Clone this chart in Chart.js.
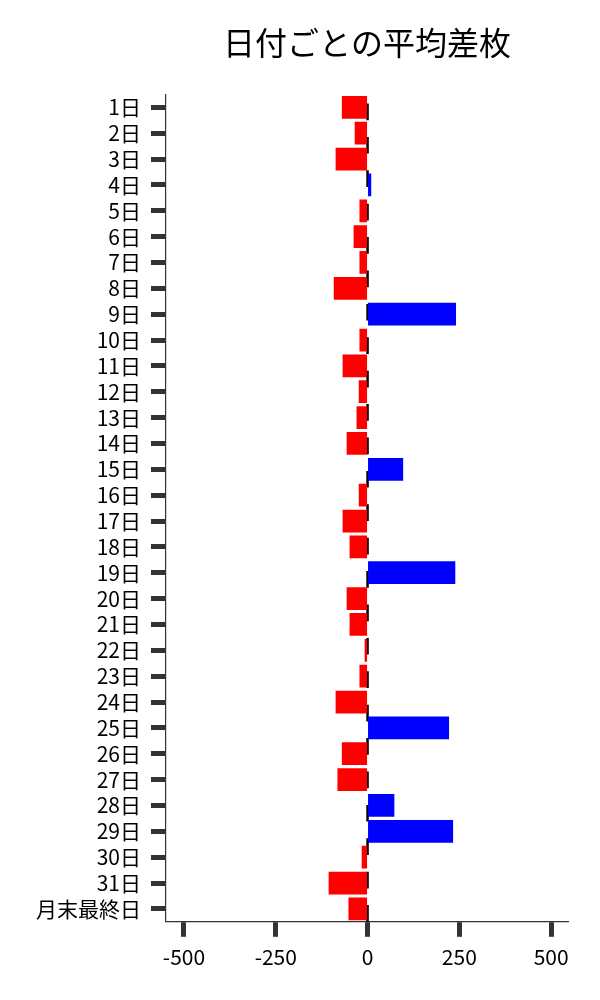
<!DOCTYPE html>
<html>
<head>
<meta charset="utf-8">
<script src="https://cdn.jsdelivr.net/npm/chart.js@4"></script>
<style>
  body { margin: 0; background: #fff; }
  #wrap { width: 600px; height: 1000px; }
</style>
</head>
<body>
<div id="wrap"><canvas id="canvas" width="600" height="1000"></canvas></div>
<script>
var days = ['1日','2日','3日','4日','5日','6日','7日','8日','9日','10日','11日','12日','13日','14日','15日','16日','17日','18日','19日','20日','21日','22日','23日','24日','25日','26日','27日','28日','29日','30日','31日','月末最終日'];
var avgDiff = [-70,-35,-87,10,-22,-38,-22,-92,241,-22,-68,-24,-30,-57,97,-24,-68,-49,239,-57,-49,-8,-22,-87,222,-70,-82,73,233,-16,-106,-52];
var xTicks = [-500,-250,0,250,500];
var chartTitle = '日付ごとの平均差枚';

var fontFamily = "'Noto Sans CJK JP', 'Noto Sans', sans-serif";

// dashed zero line behind the bars
var zeroLine = {
    id: 'zeroLine',
    beforeDatasetsDraw: function(chart){
        var ctx = chart.ctx;
        var area = chart.chartArea;
        var x = chart.scales.x.getPixelForValue(0);
        ctx.save();
        ctx.strokeStyle = '#000';
        ctx.lineWidth = 2.5;
        ctx.setLineDash([16.7, 16.7]);
        ctx.beginPath();
        ctx.moveTo(x, area.bottom);
        ctx.lineTo(x, area.top);
        ctx.stroke();
        ctx.restore();
    }
};

var colors = avgDiff.map(function(v){
    return v < 0 ? '#ff0000' : '#0000ff';
});

const ctx = document.getElementById('canvas').getContext('2d');
const chart = new Chart(ctx, {
    type: 'bar',
    data: {
        labels: days,
        datasets: [{
            label: '平均差枚',
            data: avgDiff,
            backgroundColor: colors,
            borderWidth: 0,
            barPercentage: 0.88,
            categoryPercentage: 1
        }]
    },
    options: {
        indexAxis: 'y',
        responsive: false,
        animation: false,
        layout: {
            padding: { left: 26, right: 32, top: 0, bottom: 22 }
        },
        plugins: {
            legend: { display: false },
            tooltip: { enabled: false },
            title: {
                display: true,
                text: chartTitle,
                fullSize: false,
                color: '#000',
                font: { family: fontFamily, size: 32, weight: 'normal', lineHeight: 1.2 },
                padding: { top: 24, bottom: 32 }
            }
        },
        scales: {
            x: {
                type: 'linear',
                min: -549,
                max: 546,
                afterBuildTicks: function(axis){
                    axis.ticks = xTicks.map(function(v){ return { value: v }; });
                },
                grid: {
                    drawOnChartArea: false,
                    drawTicks: true,
                    tickLength: 15,
                    tickWidth: 5,
                    tickColor: '#333'
                },
                border: { display: true, color: '#333', width: 1.2 },
                ticks: {
                    color: '#000',
                    padding: 8,
                    maxRotation: 0,
                    font: { family: fontFamily, size: 21 }
                }
            },
            y: {
                grid: {
                    offset: false,
                    drawOnChartArea: false,
                    drawTicks: true,
                    tickLength: 15,
                    tickWidth: 5,
                    tickColor: '#333'
                },
                border: { display: true, color: '#333', width: 1.2 },
                ticks: {
                    color: '#000',
                    padding: 10,
                    autoSkip: false,
                    font: { family: fontFamily, size: 21 }
                }
            }
        }
    },
    plugins: [zeroLine]
});
</script>
</body>
</html>
